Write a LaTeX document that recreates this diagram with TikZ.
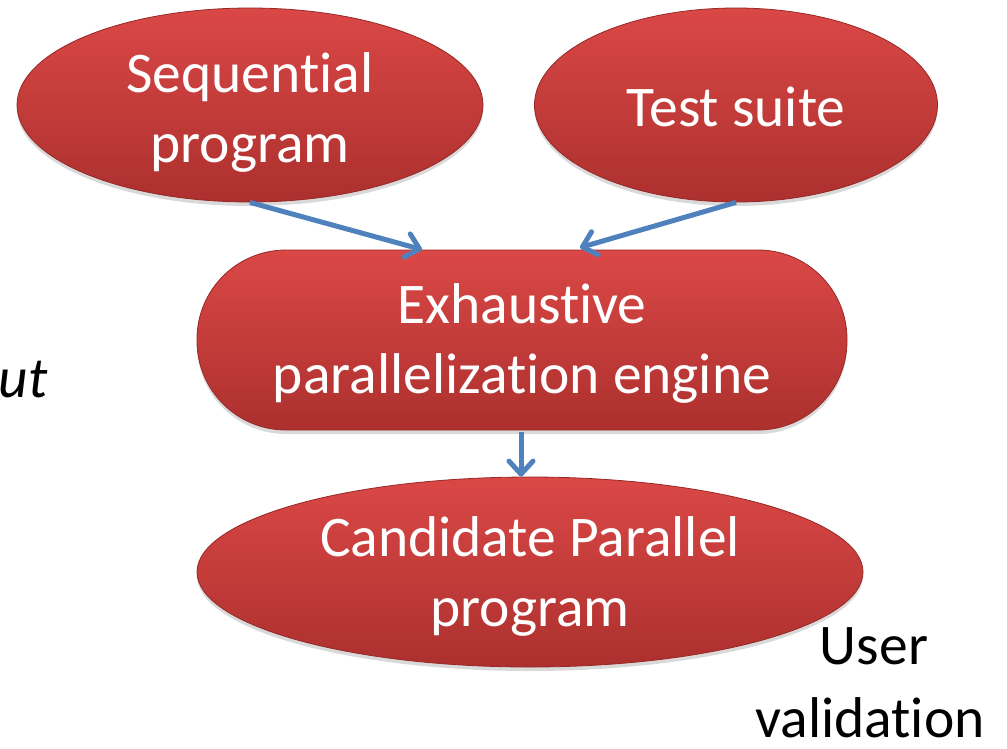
\documentclass[tikz,border=0pt]{standalone}
\usepackage{fontspec}
\setmainfont[Ligatures=NoCommon,RawFeature={-liga;-clig}]{Carlito}
\usetikzlibrary{arrows.meta,shadows,calc,shapes.geometric}
\definecolor{redtop}{RGB}{218,72,70}
\definecolor{redbot}{RGB}{172,48,46}
\definecolor{rededge}{RGB}{150,40,38}
\definecolor{arrblue}{RGB}{79,129,189}
\tikzset{
  redshape/.style={top color=redtop, bottom color=redbot, draw=rededge, line width=0.8pt,
    inner sep=0pt,
    drop shadow={opacity=0.3, shadow xshift=0pt, shadow yshift=-4pt}},
  redell/.style={redshape, ellipse},
  redpill/.style={redshape, rectangle, rounded corners=89pt},
  wtext/.style={text=white, align=center, inner sep=0pt, font=\fontsize{57.5}{70}\selectfont},
  flow/.style={draw=arrblue, line width=5pt, -{Straight Barb[round,length=13pt,width=24pt,line width=5pt]}},
  plain/.style={font=\fontsize{57.5}{70}\selectfont, inner sep=0pt, align=center}
}
\begin{document}
\begin{tikzpicture}[x=1pt,y=-1pt]
\useasboundingbox (0,0) rectangle (1007,748);
\node[redell, minimum width=466pt, minimum height=194pt] (seq) at (250,105) {};
\node[redell, minimum width=403pt, minimum height=194pt] (ts) at (736,105) {};
\node[redpill, minimum width=650pt, minimum height=180pt] (eng) at (522,340) {};
\node[redell, minimum width=666pt, minimum height=190pt] (cand) at (530,572) {};
\node[wtext] (seqt) at ($(seq.center)+(0,7)$) {Sequential\\program};
\node[wtext] (tst) at ($(ts.center)+(0,2)$) {Test suite};
\node[wtext] (engt) at ($(eng.center)+(0,3)$) {Exhaustive\\parallelization engine};
\node[wtext] (candt) at ($(cand.center)+(0,4)$) {Candidate Parallel\\program};
\node[plain, anchor=base east, font=\fontsize{57.5}{70}\selectfont\itshape] (ut) at (48,397) {ut};
\node[plain, anchor=base] (user) at (874,664) {User};
\node[plain, anchor=base] (valid) at (870,737) {validation};
\coordinate (e1) at ($(eng.north)+(-100,0)$);
\coordinate (e2) at ($(eng.north)+(58,-2)$);
\coordinate (e3) at ($(eng.south)+(-1,2)$);
\draw[flow] (seq.south) -- (e1);
\draw[flow] (ts.south) -- (e2);
\draw[flow] (e3) -- (e3 |- cand.north);
\end{tikzpicture}
\end{document}
